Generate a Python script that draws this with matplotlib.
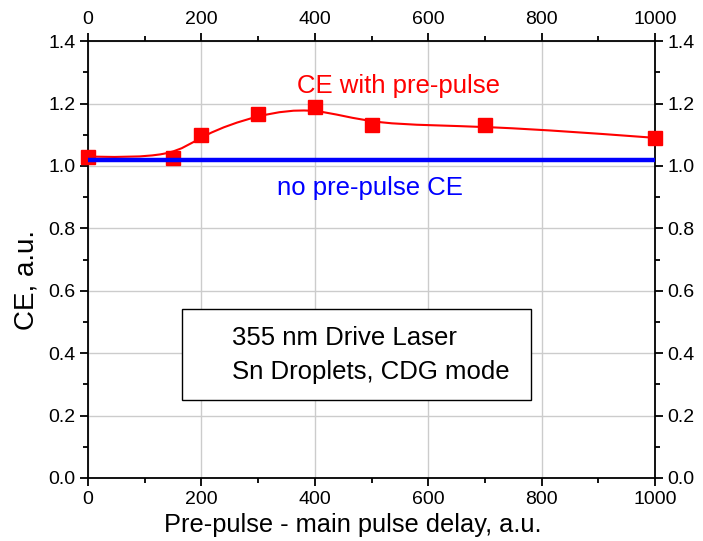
import numpy as np
import matplotlib
matplotlib.use("Agg")
import matplotlib.pyplot as plt
from matplotlib.path import Path
from matplotlib.patches import PathPatch, Rectangle

plt.rcParams['font.family'] = ['Liberation Sans', 'DejaVu Sans']

# data
delay = [0, 150, 200, 300, 400, 500, 700, 1000]
ce_pre = [1.03, 1.026, 1.10, 1.165, 1.19, 1.13, 1.13, 1.09]
no_pre_x = [0, 1000]
no_pre_ce = [1.018, 1.018]

fig = plt.figure(figsize=(7.03, 5.41), dpi=100)
ax = fig.add_axes([0.1252, 0.1165, 0.8065, 0.8075])

# B-spline style connection (points used as control points, ends clamped)
pts = np.column_stack([delay, ce_pre]).astype(float)
pts = np.vstack([pts[:1], pts[:1], pts, pts[-1:], pts[-1:]])
verts = []
codes = []
for i in range(1, len(pts) - 2):
    a, b, c, d = pts[i - 1], pts[i], pts[i + 1], pts[i + 2]
    start = (a + 4 * b + c) / 6
    if i == 1:
        verts.append(tuple(start))
        codes.append(Path.MOVETO)
    verts += [tuple((2 * b + c) / 3), tuple((b + 2 * c) / 3), tuple((b + 4 * c + d) / 6)]
    codes += [Path.CURVE4] * 3
ax.add_patch(PathPatch(Path(verts, codes), facecolor='none', edgecolor='#ff0000', lw=1.5, zorder=3))
ax.plot(delay, ce_pre, 's', color='#ff0000', markersize=9.5, zorder=4, clip_on=False)
ax.plot(no_pre_x, no_pre_ce, color='#0000ff', lw=3.2, zorder=5, solid_capstyle='butt')

ax.set_xlim(0, 1000)
ax.set_ylim(0, 1.4)
ax.set_xticks(np.arange(0, 1001, 200))
ax.set_xticks(np.arange(0, 1001, 100), minor=True)
ax.set_yticks(np.arange(0, 1.41, 0.2))
ax.set_yticks(np.arange(0, 1.41, 0.1), minor=True)
ax.set_yticklabels(['%.1f' % v for v in np.arange(0, 1.41, 0.2)])
ax.grid(True, which='major', color='#cccccc', lw=1)
ax.set_axisbelow(True)

ax.tick_params(which='both', direction='out', top=True, right=True,
               labeltop=True, labelright=True, width=1.3, colors='black')
ax.tick_params(which='major', length=6)
ax.tick_params(which='minor', length=3.5)
ax.tick_params(axis='x', labelsize=14, pad=3.5)
ax.tick_params(axis='y', labelsize=14, pad=3)
for s in ax.spines.values():
    s.set_linewidth(1.3)

ax.set_xlabel("Pre-pulse - main pulse delay, a.u.", fontsize=18.3)
ax.xaxis.set_label_coords(0.467, -0.08)
ax.set_ylabel("CE, a.u.", fontsize=20)
ax.yaxis.set_label_coords(-0.086, 0.453)

ax.text(547, 1.256, "CE with pre-pulse", color='#ff0000', fontsize=18.5, ha='center', va='center')
ax.text(497, 0.93, "no pre-pulse CE", color='#0000ff', fontsize=18.5, ha='center', va='center')

ax.add_patch(Rectangle((166, 0.249), 615, 0.294, facecolor='white', edgecolor='black', lw=1, zorder=6))
ax.text(254, 0.45, "355 nm Drive Laser", fontsize=18.5, ha='left', va='center', zorder=7)
ax.text(254, 0.339, "Sn Droplets, CDG mode", fontsize=18.5, ha='left', va='center', zorder=7)

plt.savefig("out.png", dpi=100)
